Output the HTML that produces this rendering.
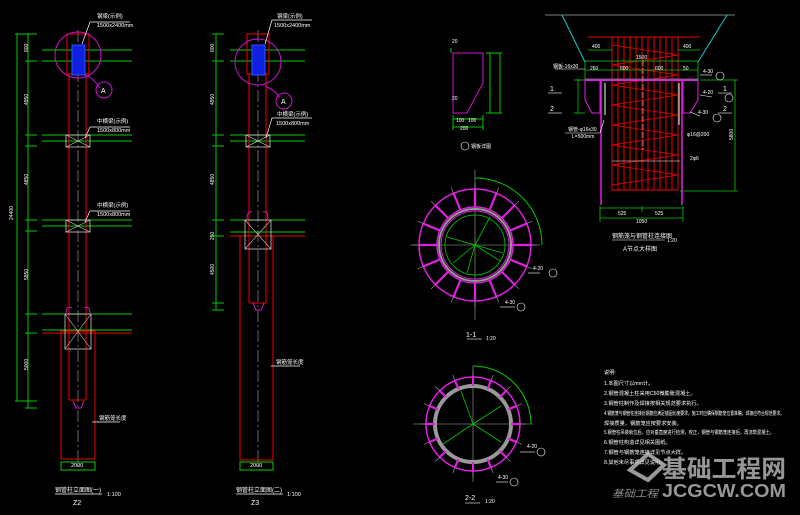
<!DOCTYPE html>
<html><head><meta charset="utf-8"><style>
html,body{margin:0;padding:0;background:#000;}
svg{display:block}
text{font-family:"Liberation Sans","Noto Sans CJK SC",sans-serif;}
</style></head><body>
<svg width="800" height="515" viewBox="0 0 800 515" xmlns="http://www.w3.org/2000/svg">
<rect width="800" height="515" fill="#000"/>
<defs>
<g id="stf1"><line x1="0" y1="-38" x2="0" y2="-56" stroke="#e020e0" stroke-width="2.2"/><line x1="0" y1="-56" x2="0" y2="-62" stroke="#aaa" stroke-width="0.6"/></g>
<g id="stf2"><line x1="0" y1="-38" x2="0" y2="-47" stroke="#e020e0" stroke-width="2.2"/><line x1="0" y1="-47" x2="0" y2="-53" stroke="#aaa" stroke-width="0.6"/></g>
<g id="xbox"><rect x="-12" y="-6" width="24" height="12" fill="none" stroke="#ccc" stroke-width="0.8"/><line x1="-12" y1="-6" x2="12" y2="6" stroke="#ccc" stroke-width="0.6"/><line x1="-12" y1="6" x2="12" y2="-6" stroke="#ccc" stroke-width="0.6"/></g>
</defs>

<!-- ===== Z2 ===== -->
<g stroke-width="1" fill="none">
<line x1="17" y1="34" x2="17" y2="401" stroke="#0c0"/>
<line x1="28" y1="34" x2="28" y2="408" stroke="#0c0"/>
<g stroke="#0c0"><line x1="15" y1="34" x2="37" y2="34"/><line x1="25" y1="61" x2="37" y2="61"/><line x1="25" y1="135" x2="37" y2="135"/><line x1="25" y1="146" x2="37" y2="146"/><line x1="25" y1="220" x2="37" y2="220"/><line x1="25" y1="231" x2="37" y2="231"/><line x1="25" y1="314" x2="37" y2="314"/><line x1="25" y1="333" x2="37" y2="333"/><line x1="15" y1="401" x2="37" y2="401"/><line x1="25" y1="408" x2="37" y2="408"/></g>
<g stroke="#0c0"><line x1="42" y1="50" x2="132" y2="50"/><line x1="42" y1="61" x2="132" y2="61"/><line x1="42" y1="135" x2="132" y2="135"/><line x1="42" y1="141" x2="132" y2="141"/><line x1="42" y1="220" x2="132" y2="220"/><line x1="42" y1="226" x2="132" y2="226"/><line x1="42" y1="314" x2="132" y2="314"/><line x1="42" y1="330" x2="132" y2="330"/></g>
<line x1="78" y1="30" x2="78" y2="470" stroke="#aaa" stroke-width="0.6" stroke-dasharray="12,3,2,3"/>
<rect x="67" y="34" width="22" height="40" stroke="#e00"/>
<line x1="69" y1="74" x2="69" y2="400" stroke="#e00"/><line x1="86" y1="74" x2="86" y2="400" stroke="#e00"/>
<line x1="69" y1="400" x2="86" y2="400" stroke="#e00"/>
<rect x="61" y="331" width="34" height="128" stroke="#e00"/>
<line x1="42" y1="333" x2="132" y2="333" stroke="#e00"/>
<rect x="72" y="45" width="13" height="30" fill="#1020e0" stroke="#3050ff"/>
<circle cx="78" cy="55" r="23" stroke="#d010d0"/>
<path d="M86 75 Q95 80 100 88" stroke="#d010d0"/>
<circle cx="104" cy="90" r="8" stroke="#d010d0"/>
<text x="101" y="93" fill="#fff" font-size="7" stroke="none">A</text>
<use href="#xbox" x="78" y="141"/><use href="#xbox" x="78" y="226"/>
<rect x="65" y="314" width="26" height="35" stroke="#ccc" stroke-width="0.8"/>
<line x1="65" y1="314" x2="91" y2="349" stroke="#ccc" stroke-width="0.6"/><line x1="91" y1="314" x2="65" y2="349" stroke="#ccc" stroke-width="0.6"/>
<path d="M73 401 L76 408 L81 408 L84 401" stroke="#d010d0"/>
<path d="M66 314 Q66 305 72 308 M90 314 Q90 305 84 308" stroke="#d010d0"/>
<rect x="61" y="462" width="34" height="8" stroke="#0c0"/>
<g stroke="#fff" stroke-width="0.7"><line x1="90" y1="22" x2="130" y2="22"/><line x1="90" y1="22" x2="82" y2="44"/><line x1="90" y1="127" x2="130" y2="127"/><line x1="90" y1="127" x2="85" y2="138"/><line x1="90" y1="211" x2="130" y2="211"/><line x1="90" y1="211" x2="85" y2="222"/><line x1="92" y1="422" x2="120" y2="422"/><line x1="55" y1="494" x2="102" y2="494"/></g>
</g>
<g fill="#fff" font-size="5.5">
<text x="97" y="18">钢梁(示例)</text><text x="97" y="27">1500x2400mm</text>
<text x="97" y="123">中横梁(示例)</text><text x="97" y="132">1500x800mm</text>
<text x="97" y="207">中横梁(示例)</text><text x="97" y="216">1500x800mm</text>
<text x="99" y="420">钢筋笼长度</text>
<text x="71" y="467">2000</text>
<text x="55" y="492" font-size="6">钢管柱立面图(一)</text><text x="107" y="496">1:100</text>
<text x="73" y="505" font-size="7">Z2</text>
</g>
<g fill="#fff" font-size="5" transform="rotate(-90)"><text x="-220" y="13">24400</text><text x="-52" y="28">800</text><text x="-105" y="28">4950</text><text x="-185" y="28">4850</text><text x="-280" y="28">5950</text><text x="-370" y="28">5000</text></g>

<!-- ===== Z3 ===== -->
<g stroke-width="1" fill="none">
<line x1="216" y1="34" x2="216" y2="310" stroke="#0c0"/>
<g stroke="#0c0"><line x1="212" y1="34" x2="224" y2="34"/><line x1="212" y1="61" x2="224" y2="61"/><line x1="212" y1="135" x2="224" y2="135"/><line x1="212" y1="146" x2="224" y2="146"/><line x1="212" y1="220" x2="224" y2="220"/><line x1="212" y1="236" x2="224" y2="236"/><line x1="212" y1="303" x2="224" y2="303"/><line x1="212" y1="310" x2="224" y2="310"/></g>
<g stroke="#0c0"><line x1="230" y1="50" x2="305" y2="50"/><line x1="230" y1="61" x2="305" y2="61"/><line x1="230" y1="135" x2="305" y2="135"/><line x1="230" y1="141" x2="305" y2="141"/><line x1="230" y1="220" x2="305" y2="220"/><line x1="230" y1="232" x2="305" y2="232"/></g>
<line x1="258" y1="30" x2="258" y2="470" stroke="#aaa" stroke-width="0.6" stroke-dasharray="12,3,2,3"/>
<rect x="247" y="34" width="22" height="40" stroke="#e00"/>
<line x1="249" y1="74" x2="249" y2="303" stroke="#e00"/><line x1="266" y1="74" x2="266" y2="303" stroke="#e00"/><line x1="249" y1="303" x2="266" y2="303" stroke="#e00"/>
<rect x="240" y="236" width="33" height="224" stroke="#e00"/>
<line x1="230" y1="236" x2="305" y2="236" stroke="#e00"/>
<rect x="252" y="45" width="13" height="30" fill="#1020e0" stroke="#3050ff"/>
<circle cx="258" cy="62" r="23" stroke="#d010d0"/>
<path d="M265 86 Q275 90 280 98" stroke="#d010d0"/>
<circle cx="284" cy="101" r="8" stroke="#d010d0"/>
<text x="281" y="104" fill="#fff" font-size="7" stroke="none">A</text>
<use href="#xbox" x="258" y="141"/>
<rect x="245" y="220" width="26" height="29" stroke="#ccc" stroke-width="0.8"/>
<line x1="245" y1="220" x2="271" y2="249" stroke="#ccc" stroke-width="0.6"/><line x1="271" y1="220" x2="245" y2="249" stroke="#ccc" stroke-width="0.6"/>
<path d="M253 303 L256 310 L261 310 L264 303" stroke="#d010d0"/>
<path d="M247 220 Q247 210 252 212 M268 220 Q268 210 263 212" stroke="#d010d0"/>
<rect x="240" y="462" width="33" height="8" stroke="#0c0"/>
<g stroke="#fff" stroke-width="0.7"><line x1="272" y1="20" x2="312" y2="20"/><line x1="272" y1="20" x2="265" y2="44"/><line x1="272" y1="118" x2="312" y2="118"/><line x1="272" y1="118" x2="266" y2="138"/><line x1="271" y1="366" x2="300" y2="366"/><line x1="236" y1="494" x2="283" y2="494"/></g>
</g>
<g fill="#fff" font-size="5.5">
<text x="277" y="18">钢梁(示例)</text><text x="274" y="27">1500x2400mm</text>
<text x="277" y="116">中横梁(示例)</text><text x="276" y="125">1500x800mm</text>
<text x="276" y="364">钢筋笼长度</text>
<text x="250" y="467">2000</text>
<text x="236" y="492" font-size="6">钢管柱立面图(二)</text><text x="287" y="496">1:100</text>
<text x="251" y="505" font-size="7">Z3</text>
</g>
<g fill="#fff" font-size="5" transform="rotate(-90)"><text x="-52" y="214">800</text><text x="-105" y="214">4950</text><text x="-185" y="214">4850</text><text x="-240" y="214">250</text><text x="-275" y="214">4500</text></g>

<!-- ===== small detail ===== -->
<g stroke-width="1" fill="none">
<path d="M453 53 L483 53 L483 83 L467 113 L453 113 Z" stroke="#d010d0"/>
<g stroke="#0c0"><line x1="486" y1="53" x2="502" y2="53"/><line x1="486" y1="113" x2="502" y2="113"/><line x1="500" y1="53" x2="500" y2="113"/><line x1="490" y1="53" x2="490" y2="113"/><line x1="453" y1="119" x2="483" y2="119"/><line x1="453" y1="127" x2="483" y2="127"/><line x1="453" y1="115" x2="453" y2="130"/><line x1="483" y1="115" x2="483" y2="130"/><line x1="451" y1="53" x2="451" y2="48"/></g>
<circle cx="465" cy="146" r="4" stroke="#fff" stroke-width="0.6"/>
</g>
<g fill="#fff" font-size="5"><text x="452" y="43">20</text><text x="452" y="100">20</text><text x="456" y="122">100</text><text x="468" y="122">100</text><text x="460" y="130">200</text><text x="471" y="148">钢板详图</text></g>

<!-- ===== circle 1-1 ===== -->
<g transform="translate(475,245)" fill="none">
<line x1="-65" y1="0" x2="65" y2="0" stroke="#aaa" stroke-width="0.6"/><line x1="0" y1="-75" x2="0" y2="75" stroke="#aaa" stroke-width="0.6"/>
<circle r="56" stroke="#e020e0" stroke-width="1.5"/>
<circle r="38" stroke="#e020e0" stroke-width="1.5"/>
<circle r="36" stroke="#999" stroke-width="2"/>
<circle r="34" stroke="#e020e0" stroke-width="1"/>
<circle r="30" stroke="#0c0" stroke-width="0.8"/>
<g><use href="#stf1"/><use href="#stf1" transform="rotate(22.5)"/><use href="#stf1" transform="rotate(45)"/><use href="#stf1" transform="rotate(67.5)"/><use href="#stf1" transform="rotate(90)"/><use href="#stf1" transform="rotate(112.5)"/><use href="#stf1" transform="rotate(135)"/><use href="#stf1" transform="rotate(157.5)"/><use href="#stf1" transform="rotate(180)"/><use href="#stf1" transform="rotate(202.5)"/><use href="#stf1" transform="rotate(225)"/><use href="#stf1" transform="rotate(247.5)"/><use href="#stf1" transform="rotate(270)"/><use href="#stf1" transform="rotate(292.5)"/><use href="#stf1" transform="rotate(315)"/><use href="#stf1" transform="rotate(337.5)"/></g>
<path d="M0 -67 A67 67 0 0 1 67 0" stroke="#0c0"/>
<g stroke="#0c0" stroke-width="0.8"><line x1="0" y1="0" x2="15" y2="-28"/><line x1="0" y1="0" x2="28" y2="8"/><line x1="0" y1="0" x2="-28" y2="-8"/><line x1="0" y1="0" x2="-22" y2="18"/><line x1="0" y1="0" x2="25" y2="16"/><line x1="0" y1="0" x2="-8" y2="28"/></g>
</g>
<g stroke="#fff" stroke-width="0.6" fill="none"><line x1="528" y1="273" x2="540" y2="273"/><circle cx="553" cy="273" r="4"/><line x1="500" y1="307" x2="515" y2="307"/><circle cx="521" cy="307" r="4"/><line x1="467" y1="339" x2="482" y2="339"/></g>
<g fill="#fff" font-size="5"><text x="533" y="270">4-20</text><text x="505" y="304">4-30</text><text x="466" y="337" font-size="7">1-1</text><text x="486" y="340">1:20</text></g>

<!-- ===== circle 2-2 ===== -->
<g transform="translate(473,424)" fill="none">
<line x1="-60" y1="0" x2="60" y2="0" stroke="#aaa" stroke-width="0.6"/><line x1="0" y1="-58" x2="0" y2="58" stroke="#aaa" stroke-width="0.6"/>
<circle r="47" stroke="#e020e0" stroke-width="1.5"/>
<circle r="38" stroke="#999" stroke-width="4"/>
<g><use href="#stf2"/><use href="#stf2" transform="rotate(22.5)"/><use href="#stf2" transform="rotate(45)"/><use href="#stf2" transform="rotate(67.5)"/><use href="#stf2" transform="rotate(90)"/><use href="#stf2" transform="rotate(112.5)"/><use href="#stf2" transform="rotate(135)"/><use href="#stf2" transform="rotate(157.5)"/><use href="#stf2" transform="rotate(180)"/><use href="#stf2" transform="rotate(202.5)"/><use href="#stf2" transform="rotate(225)"/><use href="#stf2" transform="rotate(247.5)"/><use href="#stf2" transform="rotate(270)"/><use href="#stf2" transform="rotate(292.5)"/><use href="#stf2" transform="rotate(315)"/><use href="#stf2" transform="rotate(337.5)"/></g>
<path d="M0 -58 A58 58 0 0 1 58 0" stroke="#0c0"/>
<g stroke="#0c0" stroke-width="0.8"><line x1="0" y1="0" x2="-12" y2="-33"/><line x1="0" y1="0" x2="28" y2="-18"/><line x1="0" y1="0" x2="-30" y2="20"/><line x1="0" y1="0" x2="28" y2="18"/></g>
</g>
<g stroke="#fff" stroke-width="0.6" fill="none"><line x1="520" y1="452" x2="535" y2="452"/><circle cx="541" cy="452" r="4"/><line x1="496" y1="482" x2="508" y2="482"/><circle cx="514" cy="482" r="4"/><line x1="465" y1="503" x2="480" y2="503"/></g>
<g fill="#fff" font-size="5"><text x="527" y="448">4-20</text><text x="498" y="479">4-30</text><text x="465" y="500" font-size="7">2-2</text><text x="485" y="503">1:20</text></g>

<!-- ===== A detail ===== -->
<g fill="none" stroke-width="1">
<line x1="545" y1="15" x2="735" y2="15" stroke="#aaa" stroke-width="0.7"/>
<line x1="562" y1="15" x2="585" y2="62" stroke="#1cc" /><line x1="727" y1="15" x2="698" y2="62" stroke="#1cc"/>
<g stroke="#e00" stroke-width="1">
<rect x="612" y="37" width="66" height="153"/>
<line x1="618" y1="37" x2="618" y2="190"/><line x1="624" y1="37" x2="624" y2="190"/><line x1="630" y1="37" x2="630" y2="190"/><line x1="636" y1="37" x2="636" y2="190"/><line x1="642" y1="37" x2="642" y2="190"/><line x1="648" y1="37" x2="648" y2="190"/><line x1="654" y1="37" x2="654" y2="190"/><line x1="660" y1="37" x2="660" y2="190"/><line x1="666" y1="37" x2="666" y2="190"/><line x1="672" y1="37" x2="672" y2="190"/>
<path d="M612 45 L678 55 L612 65 L678 75 L612 85 L678 95 L612 105 L678 115 L612 125 L678 135 L612 145 L678 155 L612 165 L678 175 L612 185" stroke-width="0.8"/>
<line x1="588" y1="37" x2="612" y2="37"/><line x1="678" y1="37" x2="700" y2="37"/>
</g>
<g stroke="#0c0" stroke-width="0.8">
<line x1="588" y1="50" x2="612" y2="50"/><line x1="678" y1="50" x2="700" y2="50"/>
<rect x="585" y="61" width="113" height="18"/><line x1="585" y1="70" x2="698" y2="70"/>
<line x1="735" y1="80" x2="735" y2="191"/><line x1="700" y1="80" x2="738" y2="80"/><line x1="680" y1="191" x2="738" y2="191"/>
<line x1="600" y1="208" x2="683" y2="208"/><line x1="600" y1="218" x2="683" y2="218"/><line x1="600" y1="206" x2="600" y2="222"/><line x1="683" y1="206" x2="683" y2="222"/><line x1="642" y1="206" x2="642" y2="212"/>
<line x1="578" y1="80" x2="578" y2="113"/><line x1="574" y1="80" x2="585" y2="80"/><line x1="574" y1="113" x2="585" y2="113"/>
</g>
<g stroke="#e020e0" stroke-width="1.5">
<line x1="585" y1="80" x2="698" y2="80" stroke-width="2"/>
<path d="M585 80 L600 80 L600 113 L592 113 L585 100 Z" stroke-width="1"/>
<path d="M683 80 L698 80 L698 100 L690 113 L683 113 Z" stroke-width="1"/>
<line x1="601" y1="80" x2="601" y2="205"/><line x1="682" y1="80" x2="682" y2="205"/>
</g>
<line x1="605" y1="83" x2="605" y2="115" stroke="#aaa" stroke-width="1.5"/>
<line x1="679" y1="83" x2="679" y2="125" stroke="#aaa" stroke-width="1.5"/>
<line x1="643" y1="60" x2="643" y2="150" stroke="#888" stroke-width="1" stroke-dasharray="6,2"/>
<g stroke="#fff" stroke-width="0.6"><line x1="555" y1="69" x2="585" y2="69"/><line x1="565" y1="133" x2="600" y2="133"/><line x1="600" y1="133" x2="604" y2="120"/><line x1="612" y1="161" x2="680" y2="161"/><line x1="700" y1="75" x2="712" y2="75"/><line x1="700" y1="95" x2="712" y2="97"/><line x1="690" y1="112" x2="700" y2="116"/><line x1="612" y1="240" x2="665" y2="240"/><line x1="548" y1="93" x2="562" y2="93"/><line x1="548" y1="113" x2="562" y2="113"/><line x1="718" y1="93" x2="732" y2="93"/><line x1="718" y1="113" x2="732" y2="113"/></g>
<g stroke="#fff" stroke-width="0.6"><circle cx="720" cy="76" r="4"/><circle cx="729" cy="98" r="4"/><circle cx="717" cy="118" r="4"/></g>
</g>
<g fill="#fff" font-size="5">
<text x="592" y="48">400</text><text x="683" y="48">400</text><text x="636" y="59">1500</text>
<text x="590" y="70">260</text><text x="620" y="70">600</text><text x="655" y="70">600</text><text x="683" y="70">50</text>
<text x="553" y="68">钢板-16x30</text>
<text x="703" y="73">4-30</text><text x="703" y="94">4-20</text><text x="698" y="114">4-30</text>
<text x="550" y="91" font-size="7">1</text><text x="550" y="111" font-size="7">2</text><text x="723" y="91" font-size="7">1</text><text x="723" y="111" font-size="7">2</text>
<text x="568" y="131">钢管-φ16x30</text><text x="572" y="138">L=500mm</text>
<text x="687" y="136">φ16@200</text><text x="690" y="160">2φ6</text>
<text x="618" y="215">525</text><text x="655" y="215">525</text><text x="636" y="223">1050</text>
<text x="612" y="238" font-size="6">钢筋笼与钢管柱连接图</text><text x="667" y="242">1:20</text>
<text x="623" y="251" font-size="6">A节点大样图</text>
</g>
<g fill="#fff" font-size="5" transform="rotate(-90)"><text x="-140" y="733">5800</text></g>

<!-- ===== notes ===== -->
<g fill="#fff" font-size="5.2">
<text x="604" y="374">说明:</text>
<text x="604" y="385">1.本图尺寸以mm计。</text>
<text x="604" y="395">2.钢管混凝土柱采用C50微膨胀混凝土。</text>
<text x="604" y="405">3.钢管柱制作及焊接按相关规范要求执行。</text>
<text x="604" y="415" textLength="180" lengthAdjust="spacingAndGlyphs">4.钢筋笼与钢管柱连接处钢筋应满足锚固长度要求，施工时应确保钢筋笼位置准确，焊接应符合规范要求。</text>
<text x="604" y="425">焊接质量，钢筋笼应按要求安装。</text>
<text x="604" y="434" textLength="170" lengthAdjust="spacingAndGlyphs">5.钢管柱吊装就位后，应对垂直度进行检测，校正，钢管与钢筋笼连接后，再浇筑混凝土。</text>
<text x="604" y="444">6.钢管柱构造详见相关图纸。</text>
<text x="604" y="454">7.钢管与钢筋笼连接详见节点大样。</text>
<text x="604" y="464">8.其他未尽事项详见说明。</text>
</g>

<!-- ===== watermark ===== -->
<g opacity="0.75">
<path d="M630 470 L648 454 L664 465 L648 480 Z" fill="none" stroke="#ccc" stroke-width="4"/>
<text x="662" y="477" fill="#c8c8c8" font-size="24" font-weight="bold" textLength="124" lengthAdjust="spacingAndGlyphs">基础工程网</text>
<text x="662" y="497" fill="#c8c8c8" font-size="18" font-weight="bold" textLength="124" lengthAdjust="spacingAndGlyphs">JCGCW.COM</text>
<text x="612" y="497" fill="#bbb" font-size="10" font-style="italic" textLength="46" lengthAdjust="spacingAndGlyphs">基础工程</text>
</g>
</svg>
</body></html>
